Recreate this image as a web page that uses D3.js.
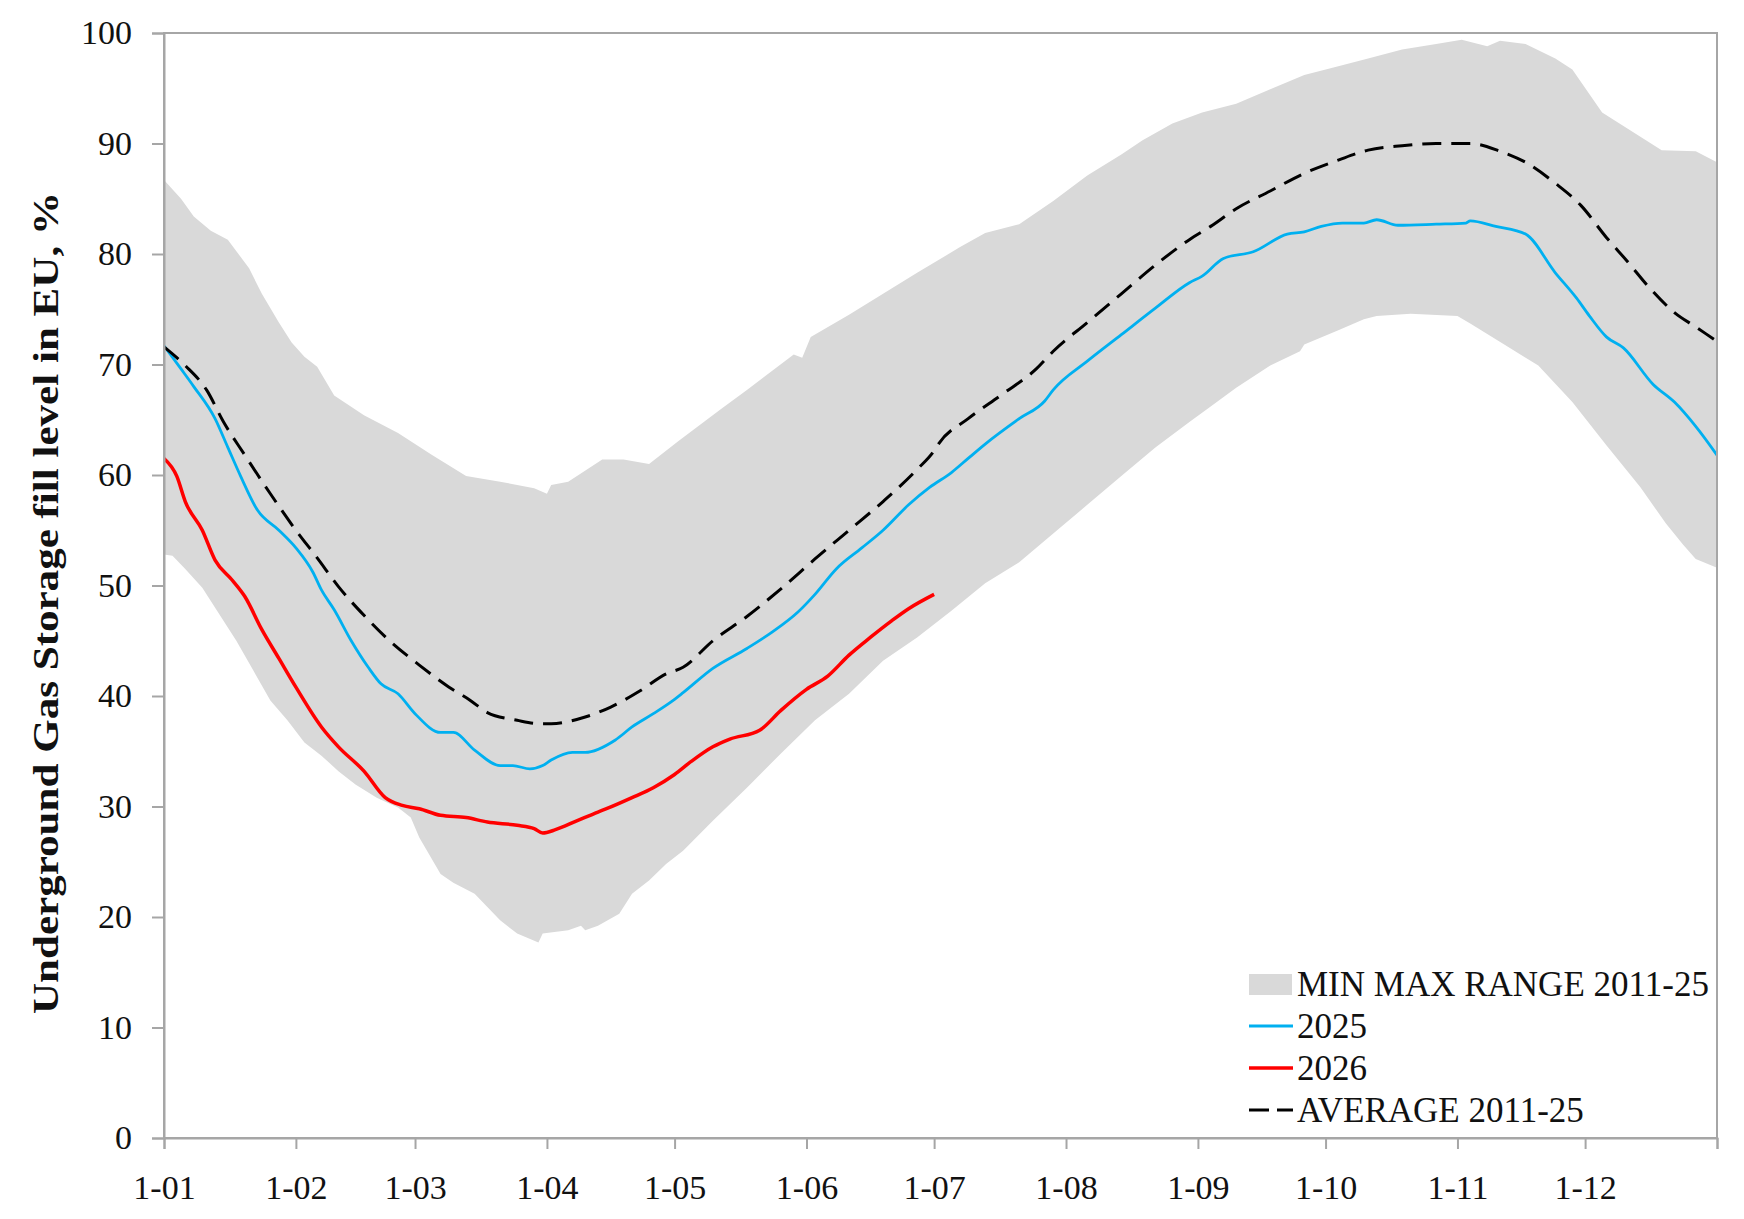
<!DOCTYPE html>
<html>
<head>
<meta charset="utf-8">
<script src="https://cdn.jsdelivr.net/npm/d3@7"></script>
<style>
  body { margin: 0; background: #fff; }
  svg { display: block; font-family: "Liberation Serif", "Times New Roman", serif; }
</style>
</head>
<body>
<svg id="chart"></svg>
<script>
// day of year (0 = 1 Jan) and fill level in %
var maxRange = [[0,86.7],[4,85.0],[7,83.4],[11,82.1],[15,81.3],[20,78.7],[23,76.4],[27,73.8],[30,72.0],[33,70.7],[36,69.8],[40,67.2],[47,65.4],[55,63.8],[63,61.8],[71,59.9],[79,59.4],[87,58.8],[90,58.3],[91,59.1],[95,59.4],[103,61.4],[108,61.4],[114,61.0],[121,63.1],[131,66.0],[137,67.7],[148,70.9],[150,70.6],[152,72.5],[161,74.5],[169,76.4],[177,78.3],[187,80.6],[193,81.9],[201,82.7],[209,84.8],[217,87.1],[225,89.0],[230,90.3],[237,91.8],[244,92.8],[252,93.6],[260,94.9],[268,96.2],[276,97.0],[283,97.7],[291,98.5],[299,99.0],[305,99.4],[311,98.8],[314,99.3],[320,99.0],[327,97.7],[331,96.7],[338,92.8],[347,90.6],[352,89.4],[360,89.3],[365,88.3]];

var minRange = [[0,52.8],[2,52.7],[5,51.5],[9,49.8],[13,47.4],[17,45.0],[21,42.3],[25,39.6],[29,37.8],[33,35.8],[37,34.6],[41,33.2],[45,32.0],[50,30.8],[55,29.9],[58,29.0],[60,27.2],[65,23.9],[68,23.1],[73,22.1],[79,19.7],[83,18.5],[88,17.7],[89,18.5],[95,18.8],[98,19.2],[99,18.8],[102,19.2],[107,20.3],[110,22.1],[114,23.3],[118,24.8],[122,26.0],[129,28.7],[137,31.7],[145,34.8],[153,37.8],[161,40.2],[169,43.2],[177,45.3],[185,47.7],[193,50.2],[201,52.1],[209,54.7],[217,57.3],[225,59.9],[233,62.5],[241,64.8],[246,66.2],[252,67.9],[260,69.9],[267,71.2],[268,71.8],[276,73.1],[282,74.1],[285,74.4],[293,74.6],[304,74.4],[307,73.7],[315,71.8],[323,69.9],[331,66.6],[339,62.7],[347,58.9],[353,55.6],[357,53.7],[360,52.4],[365,51.6]];

var average = [[0,71.6],[5,69.9],[10,67.7],[14,64.8],[19,61.8],[25,58.3],[31,55.0],[36,52.5],[41,49.9],[47,47.3],[53,45.0],[60,42.8],[67,40.8],[72,39.6],[76,38.5],[83,37.8],[88,37.5],[91,37.5],[99,38.1],[105,39.0],[112,40.5],[118,42.0],[122,42.6],[129,45.0],[137,47.2],[145,49.7],[153,52.4],[161,55.0],[169,57.6],[177,60.5],[181,62.2],[182,62.8],[189,65.1],[197,67.3],[205,69.6],[209,71.2],[217,73.8],[225,76.4],[233,79.0],[241,81.3],[246,82.5],[252,84.1],[260,85.7],[268,87.3],[276,88.5],[283,89.4],[291,89.8],[299,90.0],[307,90.0],[314,89.3],[320,88.3],[327,86.4],[333,84.4],[339,81.5],[344,79.3],[349,77.0],[355,74.7],[360,73.4],[365,72.1]];

var year2025 = [[0,71.7],[4,69.6],[7,68.0],[12,65.1],[15,62.5],[18,59.9],[22,56.8],[27,55.0],[31,53.4],[35,51.2],[37,49.6],[40,47.8],[44,45.0],[48,42.6],[51,41.1],[55,40.2],[59,38.4],[65,36.7],[68,36.7],[73,35.1],[79,33.7],[82,33.7],[86,33.4],[89,33.7],[91,34.2],[96,34.9],[99,34.9],[106,36.0],[110,37.2],[115,38.4],[120,39.7],[122,40.3],[129,42.5],[137,44.3],[143,45.8],[149,47.6],[153,49.2],[158,51.5],[164,53.4],[169,55.0],[175,57.3],[180,58.9],[185,60.2],[189,61.5],[193,62.8],[201,65.1],[207,66.7],[209,67.7],[217,70.3],[225,72.7],[233,75.1],[241,77.4],[244,78.0],[249,79.6],[256,80.2],[264,81.8],[268,82.0],[272,82.5],[277,82.8],[282,82.8],[285,83.1],[290,82.6],[299,82.7],[306,82.8],[307,83.0],[313,82.5],[320,81.8],[327,78.3],[332,76.0],[335,74.4],[339,72.5],[343,71.5],[350,68.2],[355,66.6],[360,64.4],[365,61.8]];

var year2026 = [[0,61.5],[3,59.9],[5,57.6],[9,55.0],[12,52.3],[16,50.5],[19,49.0],[23,46.0],[27,43.4],[31,40.8],[37,37.2],[41,35.4],[47,33.2],[52,30.8],[56,30.1],[60,29.8],[65,29.2],[71,29.0],[76,28.6],[83,28.3],[87,28.0],[89,27.6],[92,27.9],[97,28.7],[102,29.5],[104,29.8],[110,30.8],[115,31.7],[120,32.9],[124,34.1],[129,35.4],[133,36.1],[140,36.9],[145,38.7],[151,40.6],[156,41.8],[161,43.7],[166,45.3],[171,46.8],[175,47.9],[181,49.2]];

var monthLabels = ["1-01","1-02","1-03","1-04","1-05","1-06","1-07","1-08","1-09","1-10","1-11","1-12"];
var yTicks = [0,10,20,30,40,50,60,70,80,90,100];
var legendLabels = ["MIN MAX RANGE 2011-25","2025","2026","AVERAGE 2011-25"];
var yTitle = "Underground Gas Storage fill level in EU, %";

var width = 1744,
    height = 1219,
    margin = {top: 33, right: 27, bottom: 81, left: 164},
    contentWidth = width - margin.left - margin.right,
    contentHeight = height - margin.top - margin.bottom;

var start = new Date(2025, 0, 1),
    end = new Date(2026, 0, 1);

function toDate(day) { return d3.timeDay.offset(start, day); }

var x = d3.scaleTime().domain([start, end]).range([0, contentWidth]);
var y = d3.scaleLinear().domain([0, 100]).range([contentHeight, 0]);

var svg = d3.select("#chart").attr("width", width).attr("height", height);

var vis = svg.append("g")
  .attr("transform", "translate(" + margin.left + "," + margin.top + ")");

var band = d3.line()
  .x(function(d) { return x(toDate(d[0])); })
  .y(function(d) { return y(d[1]); });

var line = d3.line()
  .curve(d3.curveMonotoneX)
  .x(function(d) { return x(toDate(d[0])); })
  .y(function(d) { return y(d[1]); });

// min-max band as a closed polygon: upper edge forward, lower edge back
vis.append("path")
  .attr("d", band(maxRange.concat(minRange.slice().reverse())) + "Z")
  .attr("fill", "#d9d9d9")
  .attr("stroke", "none");

vis.append("path")
  .attr("d", line(year2025))
  .attr("fill", "none")
  .attr("stroke", "#00b0f0")
  .attr("stroke-width", 2.8)
  .attr("stroke-linejoin", "round");

vis.append("path")
  .attr("d", line(year2026))
  .attr("fill", "none")
  .attr("stroke", "#ff0000")
  .attr("stroke-width", 3.5)
  .attr("stroke-linejoin", "round");

vis.append("path")
  .attr("d", line(average))
  .attr("fill", "none")
  .attr("stroke", "#000")
  .attr("stroke-width", 3)
  .attr("stroke-dasharray", "19,10");

// frame
vis.append("rect")
  .attr("width", contentWidth)
  .attr("height", contentHeight)
  .attr("fill", "none")
  .attr("stroke", "#a6a6a6")
  .attr("stroke-width", 2);

var monthTicks = d3.timeMonth.range(start, d3.timeDay.offset(end, 1));

var xAxis = vis.append("g")
  .attr("transform", "translate(0," + contentHeight + ")")
  .call(d3.axisBottom(x)
    .tickValues(monthTicks)
    .tickSize(11)
    .tickPadding(18)
    .tickFormat(function(d, i) { return monthLabels[i] || ""; }));

var yAxis = vis.append("g")
  .call(d3.axisLeft(y)
    .tickValues(yTicks)
    .tickSize(12)
    .tickPadding(20));

[xAxis, yAxis].forEach(function(axis) {
  axis.select(".domain").attr("stroke", "#a6a6a6").attr("stroke-width", 2);
  axis.selectAll(".tick line").attr("stroke", "#a6a6a6").attr("stroke-width", 2);
  axis.selectAll(".tick text")
    .attr("fill", "#111")
    .style("font-family", "'Liberation Serif', serif")
    .style("font-size", "34px");
});
xAxis.selectAll(".tick text").attr("dy", "0.95em");

svg.append("text")
  .attr("transform", "rotate(-90)")
  .attr("x", -603)
  .attr("y", 58)
  .attr("textLength", 822)
  .attr("lengthAdjust", "spacingAndGlyphs")
  .style("text-anchor", "middle")
  .style("font-weight", "bold")
  .style("font-size", "36px")
  .attr("fill", "#111")
  .text(yTitle);

// legend
var legend = svg.append("g").attr("transform", "translate(1249,984)");
var rowGap = 42;

legendLabels.forEach(function(label, i) {
  var row = legend.append("g").attr("transform", "translate(0," + (i * rowGap) + ")");
  if (i === 0) {
    row.append("rect").attr("x", 0).attr("y", -10).attr("width", 43).attr("height", 21).attr("fill", "#d9d9d9");
  } else {
    var stroke = ["", "#00b0f0", "#ff0000", "#000"][i];
    var seg = row.append("line")
      .attr("x1", 0).attr("x2", 44)
      .attr("y1", 0).attr("y2", 0)
      .attr("stroke", stroke)
      .attr("stroke-width", i === 2 ? 3.5 : (i === 1 ? 2.8 : 3));
    if (i === 3) seg.attr("stroke-dasharray", "20,8");
  }
  row.append("text")
    .attr("x", 48)
    .attr("y", 12)
    .style("font-size", "35px")
    .attr("fill", "#111")
    .text(label);
});
</script>
</body>
</html>
